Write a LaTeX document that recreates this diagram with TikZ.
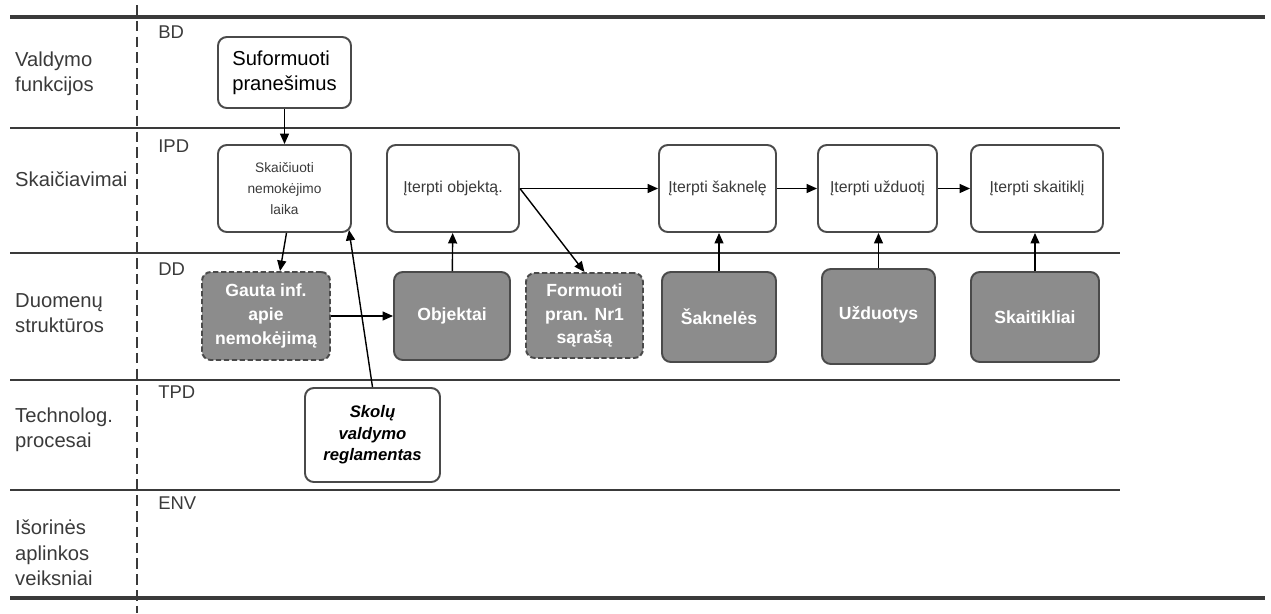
\documentclass[tikz,border=0pt]{standalone}
\usepackage{fontspec}
\setmainfont{Liberation Sans}
\usepackage{tikz}
\usetikzlibrary{positioning,arrows.meta,calc}
\usepackage{xcolor}
\definecolor{lanegray}{HTML}{3A3A3A}
\definecolor{ddfill}{HTML}{8C8C8C}
\definecolor{ddline}{HTML}{4A4A4A}

\tikzset{
  lanelbl/.style={anchor=west,align=left,text=lanegray,font=\fontsize{11.5}{14.5}\selectfont},
  lanetag/.style={anchor=north west,inner sep=0pt,text=lanegray,font=\fontsize{10.5}{12}\selectfont},
  sz/.style 2 args={minimum width=#1*0.02cm,minimum height=#2*0.02cm},
  ipdbox/.style={draw=ddline,line width=1.1pt,rounded corners=5pt,fill=white,align=center,
    text=lanegray,font=\fontsize{9}{12}\selectfont,inner sep=1pt},
  ddbox/.style={draw=ddline,line width=1.1pt,rounded corners=5pt,fill=ddfill,align=center,
    text=white,font=\bfseries\fontsize{10}{13.6}\selectfont,inner sep=1pt},
  dddash/.style={ddbox,dashed,dash pattern=on 3pt off 1.5pt},
  lane/.style={draw=lanegray,line width=0.8pt},
  conn/.style={->,line width=0.8pt,black},
}

\begin{document}
\begin{tikzpicture}[x=0.02cm,y=-0.02cm,>={Triangle[length=2.1mm,width=1.8mm]}]
\useasboundingbox (0,0) rectangle (1271,613);
% lanes
\draw[lanegray,line width=1.8pt] (10,17) -- (1265,17);
\draw[lane] (10,128) -- (1120,128);
\draw[lane] (10,253) -- (1120,253);
\draw[lane] (10,380) -- (1120,380);
\draw[lane] (10,490) -- (1120,490);
\draw[lanegray,line width=1.8pt] (10,598) -- (1265,598);
\draw[lanegray,line width=0.8pt,dash pattern=on 6pt off 3pt] (137,5) -- (137,613);

\node[lanelbl] (lvf) at (9,74) {Valdymo\\funkcijos};
\node[lanelbl] (lsk) at (9,179) {Skaičiavimai};
\node[lanelbl] (lds) at (9,313) {Duomenų\\struktūros};
\node[lanelbl] (ltp) at (9,430) {Technolog.\\procesai};
\node[lanelbl] (lia) at (9,553) {Išorinės\\aplinkos\\veiksniai};

\node[lanetag] (tbd) at (158,25) {BD};
\node[lanetag] (tipd) at (158,139) {IPD};
\node[lanetag] (tdd) at (158,262) {DD};
\node[lanetag] (ttpd) at (158,385) {TPD};
\node[lanetag] (tenv) at (158,496) {ENV};

% BD
\node[ipdbox,sz={133}{71},text=black,
  font=\fontsize{11.5}{14}\selectfont,align=left] (sufor) at (284.5,72.5) {Suformuoti\\pranešimus};

% IPD
\node[ipdbox,sz={133}{87},font=\fontsize{7.8}{12}\selectfont] (skc) at (284.5,188.5) {Skaičiuoti\\nemokėjimo\\laika};
\node[ipdbox,sz={132}{87}] (iob) at (453,188.5) {Įterpti objektą.};
\node[ipdbox,sz={117}{87}] (isak) at (717.5,188.5) {Įterpti šaknelę};
\node[ipdbox,sz={119}{87}] (iuz) at (877.5,188.5) {Įterpti užduotį};
\node[ipdbox,sz={132}{87}] (isk) at (1037,188.5) {Įterpti skaitiklį};

% DD
\node[dddash,sz={128}{88}] (gauta) at (266,316) {Gauta inf.\\apie\\nemokėjimą};
\node[ddbox,sz={116}{88}] (obj) at (452,316) {Objektai};
\node[dddash,sz={117}{85}] (form) at (584.5,315.5) {Formuoti\\pran. Nr1\\sąrašą};
\node[ddbox,sz={114}{90}] (sak) at (719,317) {Šaknelės};
\node[ddbox,sz={113}{95}] (uzd) at (878.5,316.5) {\raisebox{4pt}{Užduotys}};
\node[ddbox,sz={128}{90}] (skt) at (1035,317) {Skaitikliai};

% TPD
\node[ipdbox,sz={135}{94},text=black,
  font=\bfseries\itshape\fontsize{9.5}{12.3}\selectfont] (skol) at (372.5,435) {Skolų\\valdymo\\reglamentas};

% connectors
\draw[conn] (sufor) -- (skc);
\draw[conn] ($(skc.south)+(2,0)$) -- ($(gauta.north)+(14,0)$);
\draw[conn] (gauta.east) -- (obj.west);
\draw[conn] (obj) -- (iob);
\draw[conn] (iob.east) -- (isak.west);
\draw[conn] (iob.east) -- (form.north);
\draw[conn] (isak) -- (iuz);
\draw[conn] (iuz) -- (isk);
\draw[conn] (sak.north) -- (sak.north |- isak.south);
\draw[conn] (uzd.north) -- (uzd.north |- iuz.south);
\draw[conn] (skt.north) -- (skt.north |- isk.south);
\draw[conn] (skol.north) -- ($(skc.south east)+(-3,-3)$);
\end{tikzpicture}
\end{document}
